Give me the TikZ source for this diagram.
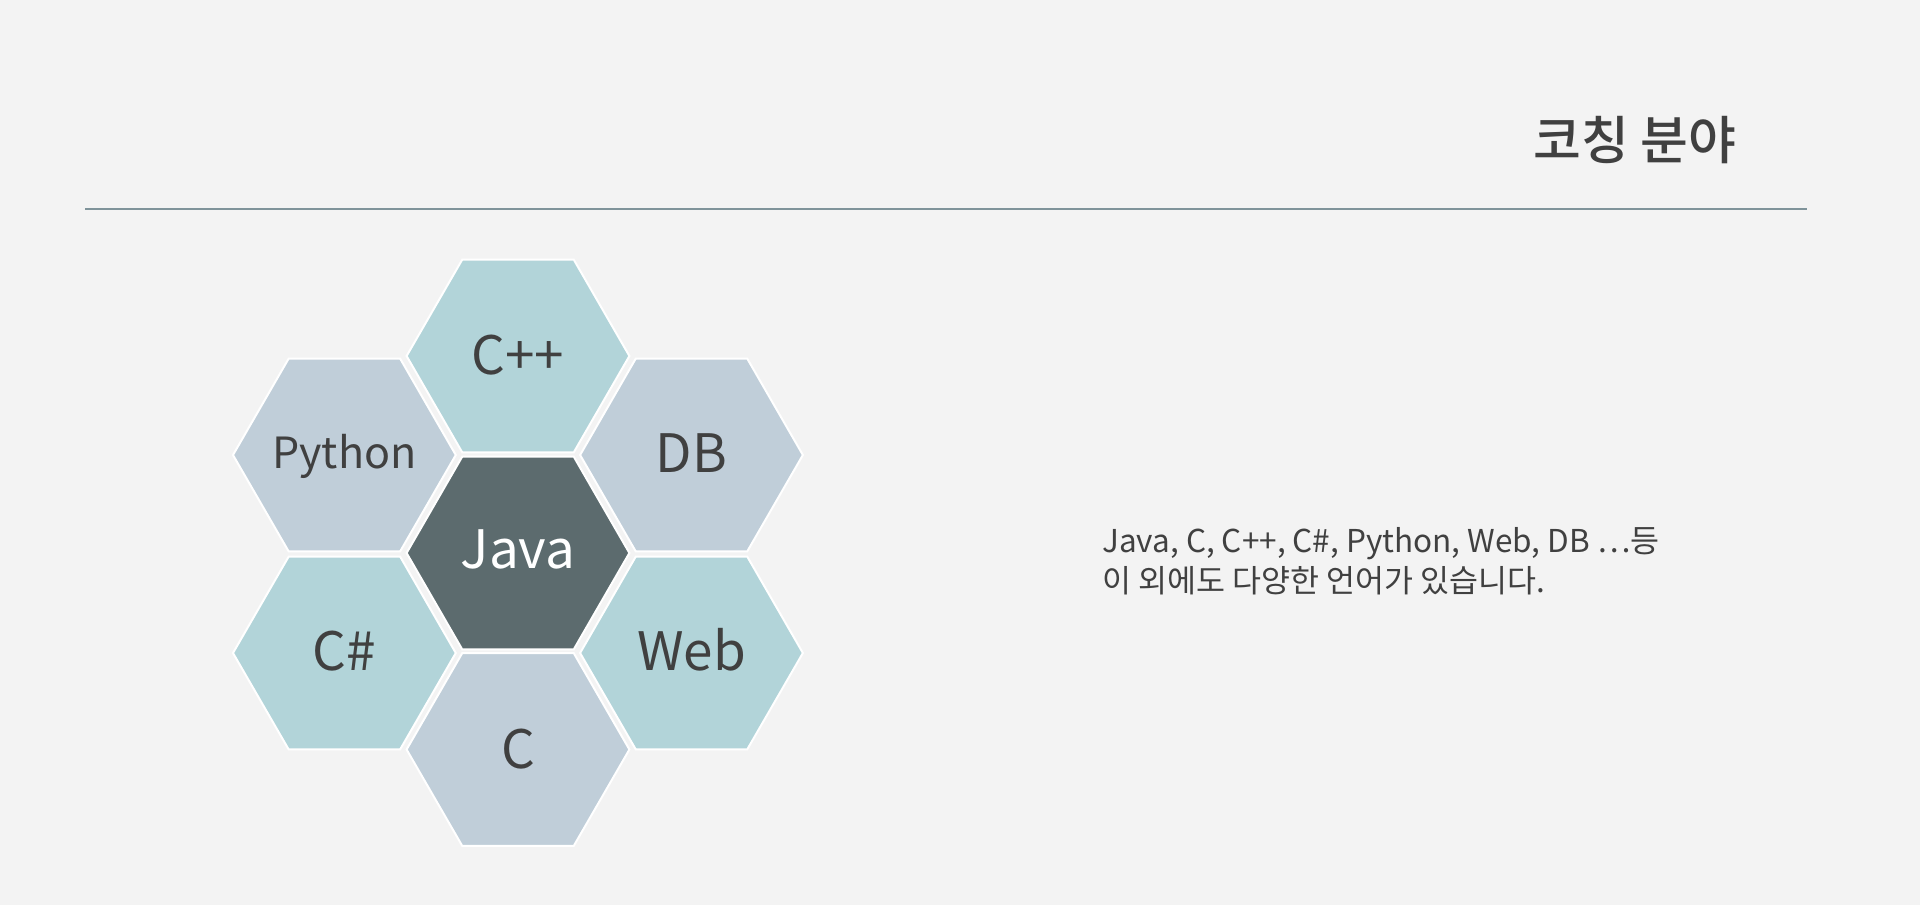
\documentclass[tikz,border=0pt]{standalone}
\usepackage{fontspec}
\setmainfont{Noto Sans CJK KR}
\newfontfamily\titlefont{Noto Sans CJK KR}[UprightFont=* Medium]
\definecolor{bg}{HTML}{F3F3F3}
\definecolor{teal}{HTML}{B2D4D9}
\definecolor{greyblue}{HTML}{C0CED9}
\definecolor{dark}{HTML}{5C6B6E}
\definecolor{txt}{HTML}{404040}
\definecolor{rule}{HTML}{7F939A}
\tikzset{
  hexfill/.style={draw=white, line width=2pt, line join=miter},
  hexlabel/.style={text=txt, font=\fontsize{53}{60}\selectfont, inner sep=0pt, anchor=base},
  bodytext/.style={anchor=base west, text=txt, font=\fontsize{31.5}{36}\selectfont, inner sep=0pt},
}
\newcommand\hexcell[6]{%
  \path[hexfill, fill=#4] (#2-111.4,#3) -- (#2-55.8,#3-96.3) -- (#2+55.8,#3-96.3) -- (#2+111.4,#3) -- (#2+55.8,#3+96.3) -- (#2-55.8,#3+96.3) -- cycle;
  \node[hexlabel] (#1) at (#2,#3+#6) {#5};
}
\begin{document}
\begin{tikzpicture}[x=1pt,y=-1pt]
\fill[bg] (0,0) rectangle (1920,905);
\useasboundingbox (0,0) rectangle (1920,905);
\node[text=txt, font=\fontsize{52}{60}\titlefont, inner sep=0pt] (title) at (1635,140) {코칭 분야};
\coordinate (ruleL) at (85,209);
\coordinate (ruleR) at (1807,209);
\draw[rule, line width=1.6pt] (ruleL) -- (ruleR);
\hexcell{cpp}{518}{356}{teal}{C++}{18.5}
\hexcell{python}{344.4}{455}{greyblue}{\fontsize{43}{50}\selectfont Python}{13}
\hexcell{db}{691.5}{455}{greyblue}{DB}{17}
\hexcell{java}{518}{553}{dark}{\color{white}Java}{15}
\hexcell{csharp}{344.4}{653}{teal}{C\#}{17}
\hexcell{web}{691.5}{653}{teal}{Web}{17}
\hexcell{c}{518}{749.5}{greyblue}{C}{18.5}
\node[bodytext] (line1) at (1102,552.7) {Java, C, C++, C\#, Python, Web, DB …등};
\node[bodytext] (line2) at (1102,592) {이 외에도 다양한 언어가 있습니다.};
\end{tikzpicture}
\end{document}
